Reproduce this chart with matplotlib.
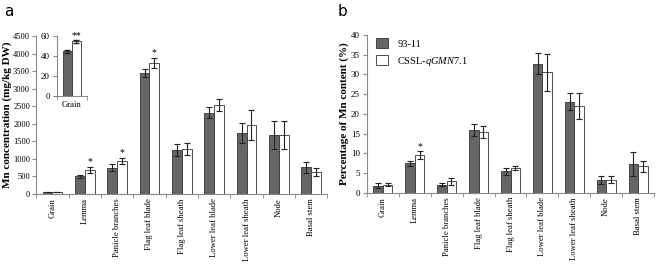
import matplotlib.pyplot as plt
import numpy as np

categories = ['Grain', 'Lemma', 'Panicle branches', 'Flag leaf blade', 'Flag leaf sheath',
              'Lower leaf blade', 'Lower leaf sheath', 'Node', 'Basal stem']

# panel a: Mn concentration (mg/kg DW)
conc_9311 = [45, 500, 750, 3450, 1260, 2320, 1740, 1690, 760]
conc_9311_err = [2, 50, 100, 110, 170, 150, 280, 400, 150]
conc_cssl = [55, 680, 940, 3730, 1280, 2540, 1960, 1680, 630]
conc_cssl_err = [2, 80, 90, 150, 160, 180, 430, 400, 110]
conc_stars = ['', '*', '*', '*', '', '', '', '', '']

# inset: grain only
grain_vals = [45, 55]
grain_err = [1.5, 1.5]

# panel b: percentage of Mn content (%)
pct_9311 = [1.8, 7.5, 2.1, 15.9, 5.5, 32.7, 23.1, 3.3, 7.3]
pct_9311_err = [0.6, 0.7, 0.4, 1.5, 0.9, 2.7, 2.1, 1.1, 3.0]
pct_cssl = [2.1, 9.6, 3.0, 15.4, 6.4, 30.6, 22.1, 3.3, 6.7]
pct_cssl_err = [0.4, 0.9, 0.9, 1.5, 0.5, 4.7, 3.3, 0.9, 1.5]
pct_stars = ['', '*', '', '', '', '', '', '', '']

plt.rcParams['font.family'] = 'Liberation Serif'
plt.rcParams['mathtext.fontset'] = 'custom'
plt.rcParams['mathtext.it'] = 'Liberation Serif:italic'
plt.rcParams['mathtext.rm'] = 'Liberation Serif'
dark = '#666666'
w = 0.3
fs = 6.2

fig = plt.figure(figsize=(6.6, 2.65), dpi=100)


def style(ax, n):
    ax.spines['top'].set_visible(False)
    ax.spines['right'].set_visible(False)
    ax.spines['left'].set_color('#888888')
    ax.spines['bottom'].set_color('#888888')
    ax.set_xlim(-0.5, n - 0.5)
    ax.set_xticks(np.arange(n + 1) - 0.5, minor=True)
    ax.set_xticks(np.arange(n))
    ax.tick_params(axis='x', which='major', length=0, labelsize=fs, pad=3)
    ax.tick_params(axis='x', which='minor', length=3, color='#888888')
    ax.tick_params(axis='y', length=3, color='#888888', labelsize=6.5, pad=2)


def bars(ax, a, ae, b, be, stars, gap):
    x = np.arange(len(a))
    ax.bar(x - w / 2, a, w, color=dark, edgecolor='#333333', linewidth=0.6,
           yerr=ae, error_kw=dict(ecolor='#222222', elinewidth=0.8, capsize=2, capthick=0.8))
    ax.bar(x + w / 2, b, w, color='white', edgecolor='#333333', linewidth=0.6,
           yerr=be, error_kw=dict(ecolor='#222222', elinewidth=0.8, capsize=2, capthick=0.8))
    for i, s in enumerate(stars):
        if s:
            ax.text(x[i] + w / 2, b[i] + be[i] + gap, s, ha='center', va='bottom', fontsize=7)


# panel a
ax1 = fig.add_axes([0.055, 0.268, 0.441, 0.596])
bars(ax1, conc_9311, conc_9311_err, conc_cssl, conc_cssl_err, conc_stars, 20)
style(ax1, len(categories))
ax1.set_ylim(0, 4500)
ax1.set_yticks(np.arange(0, 4501, 500))
ax1.set_xticklabels(categories, rotation=90)
ax1.tick_params(axis='y', labelsize=6, pad=1.5)
ax1.set_ylabel('Mn concentration (mg/kg DW)', fontweight='bold', fontsize=8, va='center')
ax1.yaxis.set_label_coords(-0.1, 0.5)

# inset
axi = fig.add_axes([0.086, 0.638, 0.046, 0.226])
axi.bar([-w / 2], [grain_vals[0]], w, color=dark, edgecolor='#333333', linewidth=0.6,
        yerr=[grain_err[0]], error_kw=dict(ecolor='#222222', elinewidth=0.8, capsize=2))
axi.bar([w / 2], [grain_vals[1]], w, color='white', edgecolor='#333333', linewidth=0.6,
        yerr=[grain_err[1]], error_kw=dict(ecolor='#222222', elinewidth=0.8, capsize=2))
axi.text(w / 2, grain_vals[1] + grain_err[1] - 1, '**', ha='center', va='bottom', fontsize=7)
style(axi, 1)
axi.set_ylim(0, 60)
axi.set_yticks([0, 20, 40, 60])
axi.set_xticklabels(['Grain'])
axi.tick_params(axis='x', pad=4)

# panel b
ax2 = fig.add_axes([0.556, 0.272, 0.435, 0.596])
bars(ax2, pct_9311, pct_9311_err, pct_cssl, pct_cssl_err, pct_stars, 0.2)
style(ax2, len(categories))
ax2.set_ylim(0, 40)
ax2.set_yticks(np.arange(0, 41, 5))
ax2.set_xticklabels(categories, rotation=90)
ax2.set_ylabel('Percentage of Mn content (%)', fontweight='bold', fontsize=8, va='center')
ax2.yaxis.set_label_coords(-0.08, 0.5)
ax2.legend(['93-11', 'CSSL-$\\mathit{qGMN7.1}$'], loc='upper left', bbox_to_anchor=(0.0, 1.04),
           frameon=False, fontsize=7.5, handlelength=1.1, handleheight=1.1, handletextpad=0.9,
           labelspacing=0.6)

fig.text(0.006, 0.985, 'a', fontsize=11, family='DejaVu Sans', va='top')
fig.text(0.512, 0.985, 'b', fontsize=11, family='DejaVu Sans', va='top')

fig.savefig('out.png', dpi=100)
